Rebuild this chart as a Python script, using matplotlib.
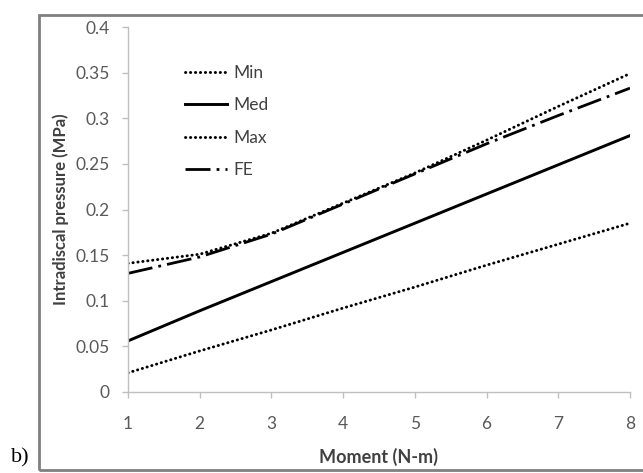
import matplotlib
matplotlib.use("Agg")
import matplotlib.pyplot as plt
from matplotlib.patches import Rectangle

moment = [1, 2, 3, 4, 5, 6, 7, 8]
p_min = [0.021, 0.045, 0.068, 0.092, 0.115, 0.139, 0.162, 0.185]
p_med = [0.056, 0.089, 0.121, 0.153, 0.185, 0.217, 0.249, 0.281]
p_max = [0.141, 0.151, 0.174, 0.207, 0.240, 0.276, 0.313, 0.349]
p_fe = [0.130, 0.148, 0.173, 0.206, 0.239, 0.272, 0.303, 0.333]
y_ticks = [0, 0.05, 0.1, 0.15, 0.2, 0.25, 0.3, 0.35, 0.4]
y_ticklabels = ["0", "0.05", "0.1", "0.15", "0.2", "0.25", "0.3", "0.35", "0.4"]

plt.rcParams['font.family'] = ['Lato', 'DejaVu Sans']

fig = plt.figure(figsize=(6.43, 4.73), dpi=100)
ax = fig.add_axes([128/643, 1-392/473, (630-128)/643, (392-27)/473])

dot = (0, (0.1, 1.6))
fe_style = (0, (9, 2.2, 1, 2.2))
ax.plot(moment, p_min, color='black', lw=2.1, linestyle=dot, dash_capstyle='round', label='Min')
ax.plot(moment, p_med, color='black', lw=2.1, linestyle='-', label='Med')
ax.plot(moment, p_max, color='black', lw=2.1, linestyle=dot, dash_capstyle='round', label='Max')
ax.plot(moment, p_fe, color='black', lw=2.0, linestyle=fe_style, dash_capstyle='butt', label='FE')

ax.set_xlim(1, 8)
ax.set_ylim(0, 0.4)
ax.set_xticks(moment)
ax.set_xticklabels([str(m) for m in moment])
ax.set_yticks(y_ticks)
ax.set_yticklabels(y_ticklabels)

for s in ['top', 'right']:
    ax.spines[s].set_visible(False)
for s in ['left', 'bottom']:
    ax.spines[s].set_color('#bfbfbf')
    ax.spines[s].set_linewidth(1.0)
ax.tick_params(axis='both', colors='#bfbfbf', labelcolor='#595959', labelsize=12.5, width=1.0)
ax.tick_params(axis='y', length=4, pad=9)
ax.tick_params(axis='x', length=4, pad=13)

ax.set_xlabel('Moment (N-m)', fontsize=13, fontweight='bold', color='#404040')
ax.set_ylabel('Intradiscal pressure (MPa)', fontsize=12, fontweight='bold', color='#404040')
ax.xaxis.set_label_coords(0.5, -0.152)
ax.yaxis.set_label_coords(-0.118, 0.5)

leg = ax.legend(loc='upper left', bbox_to_anchor=(0.1, 0.915), frameon=False, fontsize=12.5,
                handlelength=2.4, handletextpad=0.35, labelspacing=0.95, borderaxespad=0)
for t in leg.get_texts():
    t.set_color('#404040')

fig.add_artist(Rectangle((39/643, 3/473), 1.2, (470-15)/473 + 0.0, transform=fig.transFigure,
                         fill=False, edgecolor='#808080', linewidth=2.0))
fig.text(11/643, 1-458/473, 'b)', fontsize=16, family='Liberation Serif', va='center', ha='left')

fig.savefig('out.png', dpi=100)
